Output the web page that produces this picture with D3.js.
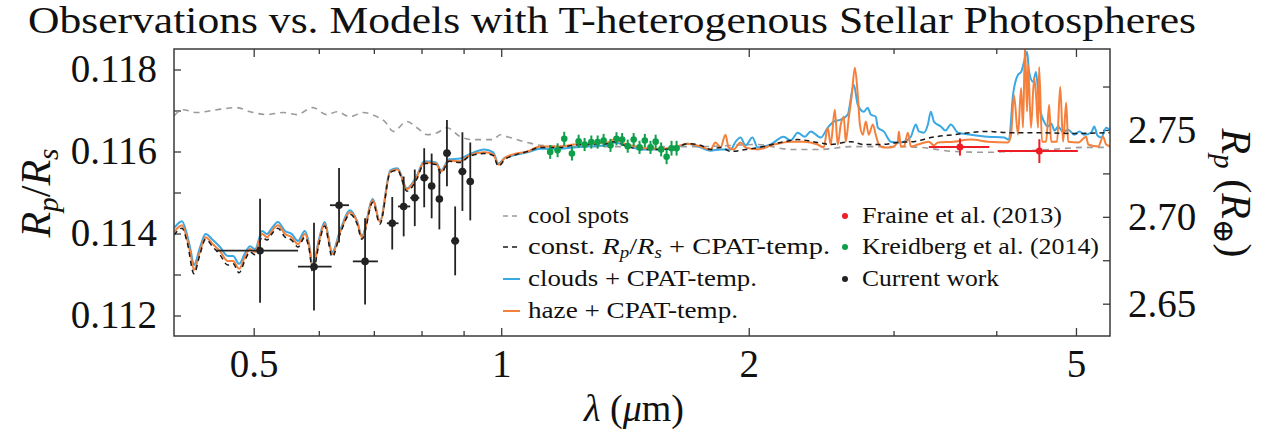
<!DOCTYPE html>
<html><head><meta charset="utf-8">
<script src="https://cdn.jsdelivr.net/npm/d3@7"></script>
<style>
body{margin:0;background:#fff;}
svg{display:block;}
svg text{font-family:"Liberation Serif","Times New Roman","DejaVu Serif",serif !important;}
</style></head><body>
<svg id="chart" width="1267" height="441"></svg>
<script>
// ---------------- data ----------------
const xTicksMajor = [0.5, 1, 2, 5];
const xTickLabels = ["0.5", "1", "2", "5"];
const xTicksMinor = [0.6, 0.7, 0.8, 0.9, 3, 4];
const yTicksMajor = [0.112, 0.114, 0.116, 0.118];
const yTickLabels = ["0.112", "0.114", "0.116", "0.118"];
const yTicksMinor = [0.113, 0.115, 0.117];
const y2TicksMajor = [2.65, 2.70, 2.75];
const y2TickLabels = ["2.65", "2.70", "2.75"];
const y2TicksMinor = [2.675, 2.725, 2.775];
const rStarEarth = 23.6;

const coolSpots = [[0.400,0.11687],[0.410,0.11702],[0.426,0.11695],[0.451,0.11702],[0.477,0.11707],[0.495,0.11697],[0.519,0.11690],[0.543,0.11695],[0.564,0.11690],[0.590,0.11707],[0.614,0.11690],[0.631,0.11697],[0.655,0.11685],[0.679,0.11695],[0.706,0.11685],[0.722,0.11673],[0.739,0.11649],[0.768,0.11673],[0.790,0.11658],[0.813,0.11641],[0.836,0.11646],[0.859,0.11658],[0.892,0.11636],[0.924,0.11629],[0.978,0.11629],[0.997,0.11641],[1.017,0.11636],[1.076,0.11622],[1.116,0.11615],[1.224,0.11612],[1.477,0.11612],[1.747,0.11612],[2.050,0.11617],[2.249,0.11605],[2.447,0.11605],[2.662,0.11612],[3.062,0.11612],[3.238,0.11610],[3.552,0.11600],[3.908,0.11598],[4.133,0.11600],[4.664,0.11605],[5.116,0.11610],[5.518,0.11610]];

const constRp = [[0.400,0.11396],[0.409,0.11413],[0.415,0.11379],[0.423,0.11302],[0.430,0.11348],[0.437,0.11386],[0.446,0.11367],[0.455,0.11348],[0.465,0.11323],[0.472,0.11326],[0.480,0.11304],[0.488,0.11335],[0.495,0.11355],[0.502,0.11348],[0.512,0.11391],[0.519,0.11384],[0.526,0.11399],[0.535,0.11413],[0.546,0.11391],[0.556,0.11384],[0.566,0.11367],[0.577,0.11391],[0.584,0.11362],[0.590,0.11304],[0.600,0.11372],[0.610,0.11418],[0.623,0.11343],[0.637,0.11399],[0.655,0.11447],[0.668,0.11423],[0.677,0.11386],[0.698,0.11476],[0.712,0.11423],[0.733,0.11549],[0.748,0.11554],[0.768,0.11503],[0.790,0.11534],[0.806,0.11571],[0.833,0.11568],[0.845,0.11547],[0.864,0.11576],[0.892,0.11573],[0.914,0.11588],[0.954,0.11595],[0.978,0.11590],[0.992,0.11564],[1.011,0.11581],[1.034,0.11590],[1.076,0.11600],[1.116,0.11610],[1.180,0.11610],[1.224,0.11615],[1.346,0.11619],[1.369,0.11624],[1.424,0.11612],[1.477,0.11605],[1.549,0.11605],[1.620,0.11607],[1.685,0.11619],[1.747,0.11615],[1.797,0.11605],[1.848,0.11610],[1.901,0.11600],[1.982,0.11605],[2.085,0.11612],[2.186,0.11622],[2.294,0.11629],[2.426,0.11622],[2.516,0.11617],[2.662,0.11624],[2.760,0.11617],[2.895,0.11617],[3.036,0.11622],[3.175,0.11624],[3.330,0.11634],[3.552,0.11641],[3.908,0.11649],[4.133,0.11646],[4.497,0.11646],[4.933,0.11644],[5.518,0.11646]];

const clouds = [[0.400,0.11413],[0.409,0.11430],[0.415,0.11396],[0.419,0.11360],[0.423,0.11323],[0.430,0.11365],[0.437,0.11399],[0.446,0.11384],[0.455,0.11367],[0.465,0.11345],[0.472,0.11345],[0.480,0.11326],[0.488,0.11352],[0.495,0.11369],[0.502,0.11362],[0.512,0.11406],[0.519,0.11399],[0.526,0.11413],[0.535,0.11428],[0.546,0.11406],[0.556,0.11399],[0.566,0.11382],[0.577,0.11406],[0.584,0.11374],[0.590,0.11318],[0.600,0.11384],[0.610,0.11428],[0.623,0.11355],[0.637,0.11408],[0.655,0.11457],[0.668,0.11430],[0.677,0.11394],[0.698,0.11484],[0.712,0.11430],[0.733,0.11554],[0.748,0.11559],[0.768,0.11510],[0.790,0.11542],[0.806,0.11576],[0.833,0.11573],[0.845,0.11554],[0.864,0.11581],[0.892,0.11583],[0.914,0.11593],[0.954,0.11605],[0.978,0.11598],[0.992,0.11571],[1.011,0.11585],[1.034,0.11590],[1.076,0.11598],[1.116,0.11607],[1.180,0.11607],[1.224,0.11610],[1.346,0.11615],[1.369,0.11622],[1.424,0.11615],[1.477,0.11605],[1.549,0.11605],[1.620,0.11607],[1.685,0.11619],[1.747,0.11610],[1.797,0.11602],[1.848,0.11605],[1.901,0.11605],[1.928,0.11624],[1.954,0.11634],[1.982,0.11615],[2.021,0.11634],[2.050,0.11610],[2.126,0.11617],[2.205,0.11636],[2.250,0.11627],[2.294,0.11646],[2.340,0.11636],[2.379,0.11649],[2.447,0.11634],[2.495,0.11658],[2.538,0.11673],[2.588,0.11678],[2.639,0.11690],[2.684,0.11763],[2.714,0.11714],[2.760,0.11697],[2.790,0.11707],[2.815,0.11690],[2.854,0.11685],[2.871,0.11658],[2.919,0.11649],[2.977,0.11624],[3.036,0.11622],[3.088,0.11624],[3.149,0.11636],[3.193,0.11666],[3.220,0.11649],[3.266,0.11646],[3.303,0.11666],[3.330,0.11697],[3.359,0.11673],[3.425,0.11661],[3.470,0.11651],[3.522,0.11666],[3.592,0.11646],[3.726,0.11641],[3.908,0.11636],[4.087,0.11634],[4.145,0.11629],[4.192,0.11738],[4.251,0.11787],[4.288,0.11794],[4.323,0.11818],[4.360,0.11843],[4.385,0.11794],[4.434,0.11770],[4.471,0.11794],[4.510,0.11714],[4.573,0.11673],[4.620,0.11661],[4.664,0.11668],[4.710,0.11651],[4.756,0.11661],[4.820,0.11648],[4.892,0.11653],[4.975,0.11641],[5.050,0.11649],[5.116,0.11641],[5.218,0.11646],[5.263,0.11661],[5.310,0.11639],[5.367,0.11634],[5.441,0.11658],[5.518,0.11649]];

const haze = [[0.400,0.11403],[0.409,0.11420],[0.415,0.11386],[0.419,0.11350],[0.423,0.11311],[0.430,0.11355],[0.437,0.11391],[0.446,0.11374],[0.455,0.11357],[0.465,0.11333],[0.472,0.11333],[0.480,0.11314],[0.488,0.11343],[0.495,0.11362],[0.502,0.11355],[0.512,0.11399],[0.519,0.11391],[0.526,0.11406],[0.535,0.11420],[0.546,0.11399],[0.556,0.11391],[0.566,0.11374],[0.577,0.11399],[0.584,0.11369],[0.590,0.11314],[0.600,0.11379],[0.610,0.11423],[0.623,0.11350],[0.637,0.11403],[0.655,0.11452],[0.668,0.11428],[0.677,0.11391],[0.698,0.11481],[0.712,0.11428],[0.733,0.11551],[0.748,0.11556],[0.768,0.11508],[0.790,0.11539],[0.806,0.11573],[0.833,0.11571],[0.845,0.11551],[0.864,0.11578],[0.892,0.11576],[0.914,0.11590],[0.954,0.11598],[0.978,0.11593],[0.992,0.11568],[1.011,0.11585],[1.034,0.11593],[1.076,0.11600],[1.116,0.11612],[1.180,0.11612],[1.224,0.11617],[1.346,0.11622],[1.369,0.11629],[1.424,0.11617],[1.477,0.11610],[1.549,0.11607],[1.620,0.11610],[1.685,0.11619],[1.747,0.11612],[1.797,0.11605],[1.822,0.11622],[1.848,0.11610],[1.874,0.11641],[1.890,0.11610],[1.917,0.11605],[1.954,0.11622],[1.982,0.11610],[2.050,0.11605],[2.144,0.11617],[2.249,0.11624],[2.333,0.11624],[2.426,0.11617],[2.467,0.11610],[2.495,0.11658],[2.516,0.11617],[2.545,0.11702],[2.566,0.11617],[2.588,0.11666],[2.610,0.11685],[2.624,0.11624],[2.647,0.11683],[2.669,0.11738],[2.692,0.11804],[2.714,0.11738],[2.730,0.11666],[2.753,0.11641],[2.776,0.11673],[2.799,0.11641],[2.831,0.11666],[2.854,0.11641],[2.879,0.11617],[2.919,0.11610],[2.977,0.11610],[3.036,0.11624],[3.045,0.11649],[3.062,0.11612],[3.088,0.11612],[3.123,0.11646],[3.149,0.11612],[3.211,0.11617],[3.312,0.11624],[3.359,0.11615],[3.397,0.11622],[3.552,0.11624],[3.726,0.11629],[3.908,0.11624],[4.133,0.11622],[4.169,0.11641],[4.203,0.11738],[4.251,0.11641],[4.288,0.11755],[4.311,0.11658],[4.335,0.11860],[4.360,0.11697],[4.372,0.11811],[4.409,0.11658],[4.447,0.11780],[4.471,0.11738],[4.497,0.11658],[4.510,0.11806],[4.547,0.11624],[4.599,0.11624],[4.638,0.11714],[4.664,0.11624],[4.742,0.11624],[4.784,0.11758],[4.823,0.11624],[4.865,0.11719],[4.892,0.11624],[5.031,0.11622],[5.145,0.11636],[5.175,0.11617],[5.322,0.11612],[5.395,0.11636],[5.441,0.11617],[5.518,0.11612]];

// Current work (black points)
const cwLam   = [0.509,0.592,0.635,0.683,0.737,0.761,0.785,0.806,0.823,0.841,0.859,0.879,0.897,0.917];
const cwLamLo = [0.450,0.566,0.619,0.660,0.726,0.749,0.775,0.798,0.816,0.833,0.851,0.869,0.887,0.908];
const cwLamHi = [0.566,0.622,0.653,0.708,0.750,0.775,0.795,0.816,0.831,0.849,0.869,0.889,0.907,0.925];
const cwVal   = [0.11358,0.11319,0.11469,0.11332,0.11425,0.11466,0.11487,0.11536,0.11516,0.11484,0.11596,0.11382,0.11551,0.11527];
const cwErr   = [0.00127,0.00107,0.00091,0.00105,0.00064,0.00073,0.00069,0.00072,0.00079,0.00074,0.00081,0.00084,0.00096,0.00095];

// Kreidberg et al. (2014) (green points)
const kLam = [1.147,1.171,1.193,1.219,1.242,1.263,1.287,1.310,1.332,1.358,1.381,1.403,1.425,1.449,1.473,1.495,1.519,1.541,1.565,1.589,1.611,1.634];
const kVal = [0.11599,0.11603,0.11631,0.11595,0.11625,0.11617,0.11623,0.11623,0.11627,0.11615,0.11631,0.11629,0.11613,0.11629,0.11610,0.11627,0.11610,0.11624,0.11605,0.11587,0.11608,0.11608];
const kErr = [0.00017,0.00017,0.00017,0.00017,0.00016,0.00016,0.00016,0.00016,0.00016,0.00016,0.00016,0.00016,0.00016,0.00016,0.00016,0.00016,0.00016,0.00017,0.00017,0.00018,0.00018,0.00018];
const kLamErr = [0.007,0.007,0.007,0.007,0.007,0.007,0.007,0.007,0.007,0.008,0.008,0.008,0.008,0.008,0.008,0.008,0.008,0.008,0.008,0.008,0.008,0.008];

// Fraine et al. (2013) (red points)
const fLam   = [3.613, 4.513];
const fLamLo = [3.312, 4.016];
const fLamHi = [3.923, 5.026];
const fVal   = [0.11611, 0.11601];
const fErr   = [0.00021, 0.00029];

const legendLeft = ["cool spots", "const. R_p/R_s + CPAT-temp.", "clouds + CPAT-temp.", "haze + CPAT-temp."];
const legendRight = ["Fraine et al. (2013)", "Kreidberg et al. (2014)", "Current work"];

// ---------------- drawing ----------------
const FONT = '"Liberation Serif", "Times New Roman", "DejaVu Serif", serif';
const C = {gray:"#9b9b9b", black:"#1a1a1a", blue:"#3aa8e2", orange:"#f4803b", green:"#0e9f4a", red:"#ee1c25", cw:"#222222", axis:"#3a3a3a"};
const m = {left:174, right:1110, top:49, bottom:336};
const svg = d3.select("#chart");

const x = d3.scaleLog().domain([0.4, 5.5]).range([m.left, m.right]);
const y = d3.scaleLinear().domain([0.1115, 0.1185]).range([m.bottom, m.top]);
const y2 = d3.scaleLinear().domain([0.1115 * rStarEarth, 0.1185 * rStarEarth]).range([m.bottom, m.top]);

svg.append("defs").append("clipPath").attr("id","plotclip")
  .append("rect").attr("x",m.left).attr("y",m.top).attr("width",m.right-m.left).attr("height",m.bottom-m.top);

function styleAxis(g){
  g.attr("font-family", null);
  g.select(".domain").remove();
  g.selectAll("line").attr("stroke",C.axis).attr("stroke-width",1.3);
  g.selectAll("text").style("font-family",FONT).attr("font-size",39).attr("fill","#111");
}
const fmt = labels => (d,i) => labels[i];

// x axes
svg.append("g").attr("transform",`translate(0,${m.bottom})`)
  .call(d3.axisBottom(x).tickValues(xTicksMajor).tickFormat(fmt(xTickLabels)).tickSizeInner(-8).tickSizeOuter(0).tickPadding(13)).call(styleAxis);
svg.append("g").attr("transform",`translate(0,${m.bottom})`)
  .call(d3.axisBottom(x).tickValues(xTicksMinor).tickFormat("").tickSizeInner(-5).tickSizeOuter(0)).call(styleAxis);
svg.append("g").attr("transform",`translate(0,${m.top})`)
  .call(d3.axisTop(x).tickValues(xTicksMajor).tickFormat("").tickSizeInner(-8).tickSizeOuter(0)).call(styleAxis);
svg.append("g").attr("transform",`translate(0,${m.top})`)
  .call(d3.axisTop(x).tickValues(xTicksMinor).tickFormat("").tickSizeInner(-5).tickSizeOuter(0)).call(styleAxis);
// left axis
svg.append("g").attr("transform",`translate(${m.left},0)`)
  .call(d3.axisLeft(y).tickValues(yTicksMajor).tickFormat(fmt(yTickLabels)).tickSizeInner(-7).tickSizeOuter(0).tickPadding(17)).call(styleAxis);
svg.append("g").attr("transform",`translate(${m.left},0)`)
  .call(d3.axisLeft(y).tickValues(yTicksMinor).tickFormat("").tickSizeInner(-7).tickSizeOuter(0)).call(styleAxis);
// right axis
svg.append("g").attr("transform",`translate(${m.right},0)`)
  .call(d3.axisRight(y2).tickValues(y2TicksMajor).tickFormat(fmt(y2TickLabels)).tickSizeInner(-7).tickSizeOuter(0).tickPadding(18)).call(styleAxis);
svg.append("g").attr("transform",`translate(${m.right},0)`)
  .call(d3.axisRight(y2).tickValues(y2TicksMinor).tickFormat("").tickSizeInner(-7).tickSizeOuter(0)).call(styleAxis);

// model curves
const line = d3.line().x(d=>x(d[0])).y(d=>y(d[1])).curve(d3.curveMonotoneX);
const plot = svg.append("g").attr("clip-path","url(#plotclip)");
plot.append("path").datum(coolSpots).attr("d",line).attr("fill","none").attr("stroke",C.gray).attr("stroke-width",1.6).attr("stroke-dasharray","6,5");
plot.append("path").datum(clouds).attr("d",line).attr("fill","none").attr("stroke",C.blue).attr("stroke-width",2);
plot.append("path").datum(haze).attr("d",line).attr("fill","none").attr("stroke",C.orange).attr("stroke-width",2);
plot.append("path").datum(constRp).attr("d",line).attr("fill","none").attr("stroke",C.black).attr("stroke-width",1.5).attr("stroke-dasharray","5,4");

// data points with error bars
function drawPoints(lam, lo, hi, val, err, color, r, sw){
  const g = plot.append("g");
  lam.forEach((l,i)=>{
    g.append("line").attr("x1",x(lo[i])).attr("x2",x(hi[i])).attr("y1",y(val[i])).attr("y2",y(val[i])).attr("stroke",color).attr("stroke-width",sw);
    g.append("line").attr("x1",x(l)).attr("x2",x(l)).attr("y1",y(val[i]-err[i])).attr("y2",y(val[i]+err[i])).attr("stroke",color).attr("stroke-width",sw);
    g.append("circle").attr("cx",x(l)).attr("cy",y(val[i])).attr("r",r).attr("fill",color);
  });
}
drawPoints(kLam, kLam.map((l,i)=>l-kLamErr[i]), kLam.map((l,i)=>l+kLamErr[i]), kVal, kErr, C.green, 3.3, 2);
drawPoints(fLam, fLamLo, fLamHi, fVal, fErr, C.red, 3.5, 2);
drawPoints(cwLam, cwLamLo, cwLamHi, cwVal, cwErr, C.cw, 3.8, 1.8);

// frame
svg.append("rect").attr("x",m.left).attr("y",m.top).attr("width",m.right-m.left).attr("height",m.bottom-m.top)
  .attr("fill","none").attr("stroke",C.axis).attr("stroke-width",1.5);

// title
svg.append("text").attr("x",612).attr("y",33).attr("text-anchor","middle")
  .style("font-family",FONT).attr("font-size",38).attr("fill","#111")
  .attr("textLength",1168).attr("lengthAdjust","spacingAndGlyphs")
  .text("Observations vs. Models with T-heterogenous Stellar Photospheres");

// axis titles
const xt = svg.append("text").attr("x",634).attr("y",421).attr("text-anchor","middle")
  .style("font-family",FONT).attr("font-size",38).attr("fill","#111");
xt.append("tspan").attr("font-style","italic").text("λ");
xt.append("tspan").text(" (");
xt.append("tspan").attr("font-style","italic").text("μ");
xt.append("tspan").text("m)");

function mathR(t, sub, size){
  t.append("tspan").attr("font-style","italic").text("R");
  t.append("tspan").attr("font-style","italic").attr("font-size",size*0.7).attr("dy",size*0.2).text(sub);
}
const lt = svg.append("text").attr("transform","translate(50,193) rotate(-90)").attr("text-anchor","middle")
  .style("font-family",FONT).attr("font-size",42).attr("fill","#111");
mathR(lt,"p",42);
lt.append("tspan").attr("dy",-8.4).text("/");
mathR(lt,"s",42);

const rt = svg.append("text").attr("transform","translate(1222,193) rotate(90)").attr("text-anchor","middle")
  .style("font-family",FONT).attr("font-size",42).attr("fill","#111");
mathR(rt,"p",42);
rt.append("tspan").attr("dy",-8.4).text(" (");
mathR(rt,"⊕",42);
rt.append("tspan").attr("dy",-8.4).text(")");

// legend
const lg = svg.append("g").style("font-family",FONT).attr("font-size",24).attr("fill","#111");
const rowsY = [215, 246, 278, 310];
const leftWidths = [101, 302, 229, 210];
const rightWidths = [200, 237, 137];
const leftStyles = [
  {stroke:C.gray, dash:"5,4"}, {stroke:C.black, dash:"5,4"}, {stroke:C.blue, dash:null}, {stroke:C.orange, dash:null}
];
legendLeft.forEach((label,i)=>{
  const ly = rowsY[i];
  const s = leftStyles[i];
  const ln = lg.append("line").attr("x1",503).attr("x2",520).attr("y1",ly+1).attr("y2",ly+1).attr("stroke",s.stroke).attr("stroke-width",s.dash?1.5:2);
  if (s.dash) ln.attr("stroke-dasharray",s.dash);
  const t = lg.append("text").attr("x",528).attr("y",ly+8)
    .attr("textLength",leftWidths[i]).attr("lengthAdjust","spacingAndGlyphs");
  if (label.indexOf("R_p/R_s") >= 0){
    const parts = label.split("R_p/R_s");
    t.append("tspan").text(parts[0]);
    t.append("tspan").attr("font-style","italic").text("R");
    t.append("tspan").attr("font-style","italic").attr("font-size",16).attr("dy",4).text("p");
    t.append("tspan").attr("dy",-4).text("/");
    t.append("tspan").attr("font-style","italic").text("R");
    t.append("tspan").attr("font-style","italic").attr("font-size",16).attr("dy",4).text("s");
    t.append("tspan").attr("dy",-4).text(parts[1]);
  } else {
    t.text(label);
  }
});
const rightColors = [C.red, C.green, C.cw];
legendRight.forEach((label,i)=>{
  const ly = rowsY[i];
  lg.append("circle").attr("cx",845).attr("cy",ly+1).attr("r",3).attr("fill",rightColors[i]);
  lg.append("text").attr("x",862).attr("y",ly+8)
    .attr("textLength",rightWidths[i]).attr("lengthAdjust","spacingAndGlyphs").text(label);
});
</script>
</body></html>
